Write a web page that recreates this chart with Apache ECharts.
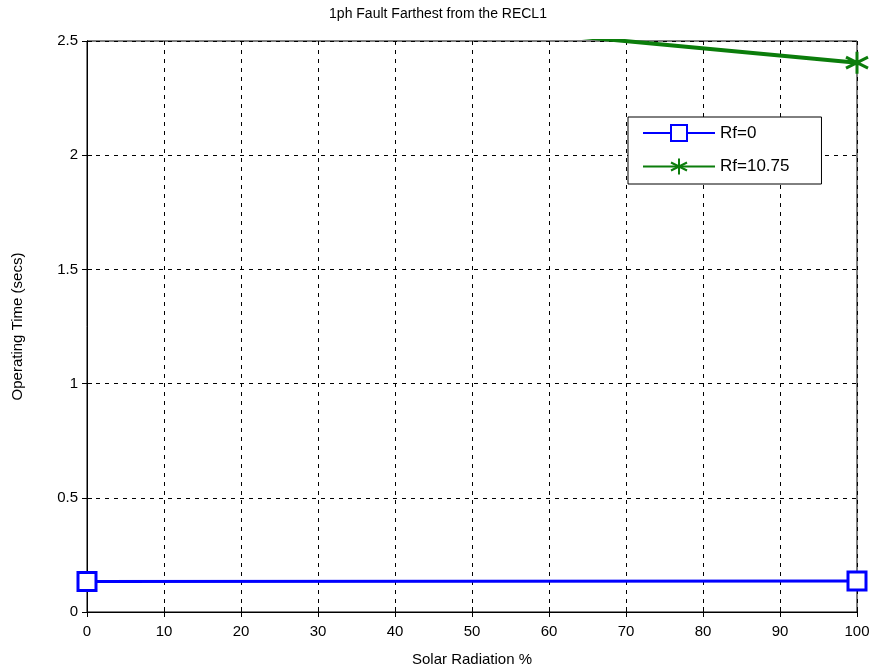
<!DOCTYPE html>
<html>
<head>
<meta charset="utf-8">
<script src="https://cdn.jsdelivr.net/npm/echarts@6/dist/echarts.min.js"></script>
<style>
html,body{margin:0;padding:0;background:#fff;}
#chart{width:876px;height:672px;}
</style>
</head>
<body>
<div id="chart"></div>
<script>
// data
const solarRadiation = [0, 100]
const rf0 = [0.133, 0.136]
const rf1075 = [2.72, 2.405]
const seriesNames = ['Rf=0', 'Rf=10.75']

const font = 'Liberation Sans'
// asterisk marker
const star = 'path://M0,-10L0,10M-8.66,-5L8.66,5M-8.66,5L8.66,-5'

const chart = echarts.init(document.getElementById('chart'))

const gridLine = { show: true, lineStyle: { color: '#000', type: [4, 5], width: 1 } }
const tick = { show: true, inside: true, length: 5, lineStyle: { color: '#000' } }

const option = {
  animation: false,
  backgroundColor: '#fff',
  title: {
    text: '1ph Fault Farthest from the RECL1',
    left: 'center', top: 2,
    textStyle: { fontFamily: font, fontSize: 14, fontWeight: 'normal', color: '#000' }
  },
  grid: { left: 87, right: 19, top: 41, bottom: 58, show: true, borderColor: '#000', borderWidth: 1 },
  legend: {
    left: 628, top: 117, orient: 'vertical',
    itemWidth: 72, itemHeight: 20, itemGap: 14,
    padding: [7, 32, 7, 14],
    borderColor: '#000', borderWidth: 1, backgroundColor: '#fff',
    textStyle: { fontFamily: font, fontSize: 17, color: '#000' },
    data: seriesNames
  },
  xAxis: [{
    type: 'value', min: 0, max: 100, interval: 10,
    name: 'Solar Radiation %', nameLocation: 'middle', nameGap: 40,
    nameTextStyle: { fontFamily: font, fontSize: 15, color: '#000' },
    axisLine: { show: true, onZero: false, lineStyle: { color: '#000' } },
    axisTick: tick,
    axisLabel: { fontFamily: font, fontSize: 15, color: '#000', margin: 12 },
    splitLine: gridLine
  }, {
    type: 'value', min: 0, max: 100, interval: 10, position: 'top',
    axisLine: { show: true, lineStyle: { color: '#000' } },
    axisTick: tick, axisLabel: { show: false }, splitLine: { show: false }
  }],
  yAxis: [{
    type: 'value', min: 0, max: 2.5, interval: 0.5,
    name: 'Operating Time (secs)', nameLocation: 'middle', nameGap: 62,
    nameTextStyle: { fontFamily: font, fontSize: 15, color: '#000' },
    axisLine: { show: true, lineStyle: { color: '#000' } },
    axisTick: tick,
    axisLabel: { fontFamily: font, fontSize: 15, color: '#000', margin: 9 },
    splitLine: gridLine
  }, {
    type: 'value', min: 0, max: 2.5, interval: 0.5, position: 'right',
    axisLine: { show: true, lineStyle: { color: '#000' } },
    axisTick: tick, axisLabel: { show: false }, splitLine: { show: false }
  }],
  series: [{
    name: seriesNames[0], type: 'line',
    data: solarRadiation.map((x, i) => [x, rf0[i]]),
    symbol: 'rect', symbolSize: 18, showAllSymbol: true,
    lineStyle: { color: '#0000ff', width: 3 },
    itemStyle: { color: '#fff', borderColor: '#0000ff', borderWidth: 3 },
    color: '#0000ff',
    z: 3
  }, {
    name: seriesNames[1], type: 'line',
    data: solarRadiation.map((x, i) => [x, rf1075[i]]),
    symbol: star, symbolSize: 22, showAllSymbol: true,
    lineStyle: { color: '#0b7d0b', width: 4 },
    itemStyle: { color: 'none', borderColor: '#0b7d0b', borderWidth: 3 },
    color: '#0b7d0b',
    clip: true,
    z: 3
  }]
}

chart.setOption(option)
</script>
</body>
</html>
